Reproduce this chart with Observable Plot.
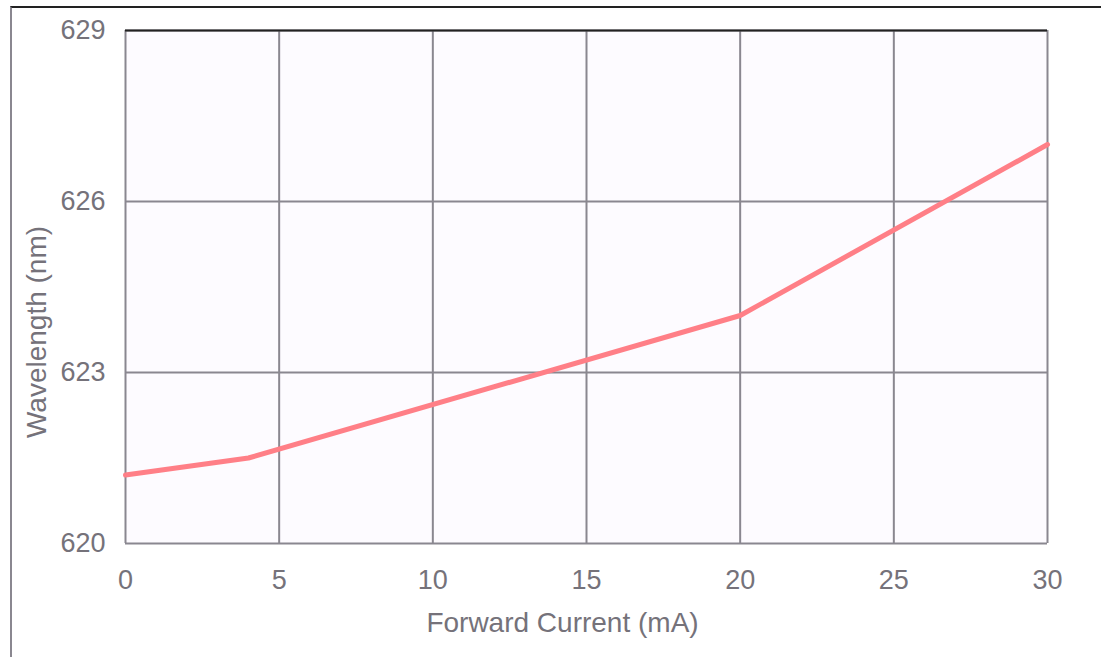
<!DOCTYPE html>
<html>
<head>
<meta charset="utf-8">
<script src="https://cdn.jsdelivr.net/npm/d3@7"></script>
<script src="https://cdn.jsdelivr.net/npm/@observablehq/plot@0.6"></script>
<style>
  html, body { margin: 0; padding: 0; background: #ffffff; }
  #wrap { position: relative; width: 1101px; height: 657px; overflow: hidden; }
  #frame { position: absolute; left: 10px; top: 6px; width: 1091px; height: 651px;
           border-top: 2px solid #222; border-left: 2px solid #8a8790; box-sizing: border-box; pointer-events: none; }
  #chart { position: absolute; left: 0; top: 0; }
</style>
</head>
<body>
<div id="wrap"><div id="chart"></div><div id="frame"></div></div>
<script>
const current = [0, 4, 20, 30];
const wavelength = [621.2, 621.5, 624.0, 627.0];
const xTicks = [0, 5, 10, 15, 20, 25, 30];
const yTicks = [620, 623, 626, 629];

const data = current.map((c, i) => ({current: c, wavelength: wavelength[i]}));

const chart = Plot.plot({
  width: 1101,
  height: 657,
  marginLeft: 125,
  marginRight: 54,
  marginTop: 30,
  marginBottom: 114,
  style: {fontFamily: "Liberation Sans, Arial, sans-serif", fontSize: "27px", color: "#75727a", background: "transparent"},
  x: {domain: [0, 30], ticks: xTicks},
  y: {domain: [620, 629], ticks: yTicks},
  marks: [
    Plot.frame({fill: "#fdfbff", stroke: null}),
    Plot.gridX(xTicks, {stroke: "#8a8790", strokeOpacity: 1, strokeWidth: 2}),
    Plot.gridY(yTicks, {stroke: "#8a8790", strokeOpacity: 1, strokeWidth: 2}),
    Plot.ruleY([629], {stroke: "#222", strokeWidth: 2}),
    Plot.axisX(xTicks, {tickSize: 0, tickPadding: 26, fontSize: 27, tickFormat: d => String(d), label: null}),
    Plot.axisY(yTicks, {tickSize: 0, tickPadding: 20, fontSize: 27, tickFormat: d => String(d), label: null}),
    Plot.text(["Forward Current (mA)"], {frameAnchor: "bottom", lineAnchor: "middle", dy: 80, dx: -24, fontSize: 28, fill: "#75727a"}),
    Plot.text(["Wavelength (nm)"], {frameAnchor: "left", textAnchor: "middle", dx: -88, dy: 45, rotate: -90, fontSize: 28, fill: "#75727a"}),
    Plot.line(data, {x: "current", y: "wavelength", stroke: "#ff7f87", strokeWidth: 5})
  ]
});
document.getElementById("chart").appendChild(chart);
</script>
</body>
</html>
